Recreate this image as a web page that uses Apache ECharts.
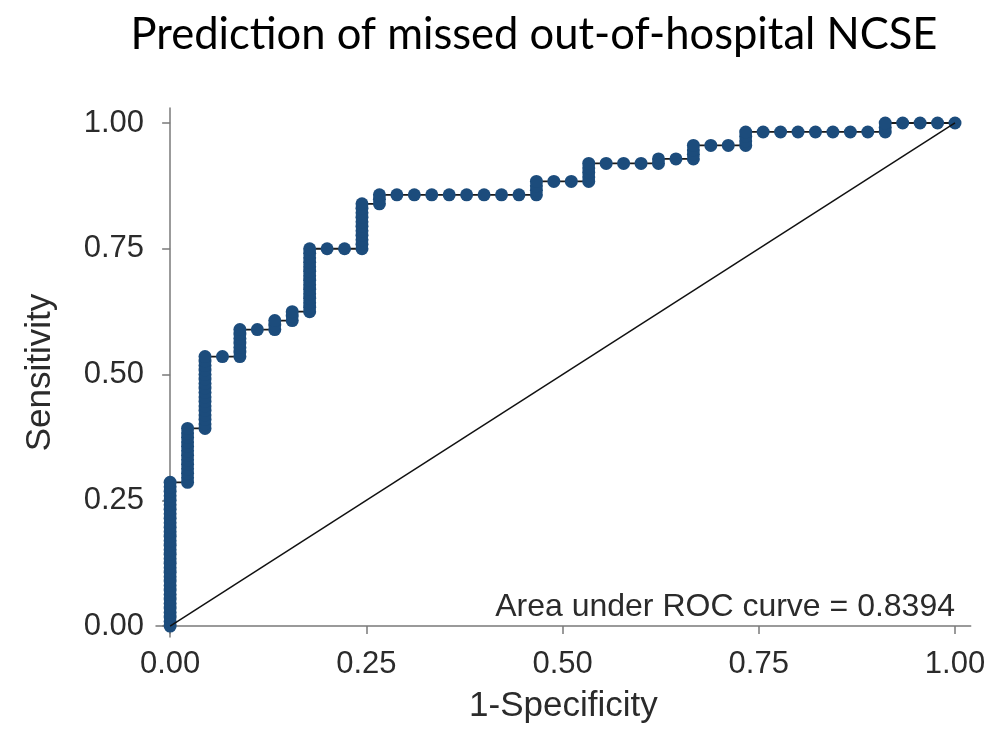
<!DOCTYPE html>
<html>
<head>
<meta charset="utf-8">
<script src="https://cdn.jsdelivr.net/npm/echarts@6/dist/echarts.min.js"></script>
<style>html,body{margin:0;padding:0;background:#fff;}#chart{width:997px;height:734px;}</style>
</head>
<body>
<div id="chart"></div>
<script>
// ---- data ----
const chartTitle = 'Prediction of missed out-of-hospital NCSE';
const xAxisName = '1-Specificity';
const yAxisName = 'Sensitivity';
const tickValues = [0, 0.25, 0.5, 0.75, 1];
const aucValue = 0.8394;
const nNegatives = 45;   // false-positive count steps along x
const nPositives = 112;  // true-positive count steps along y
// rocColumns[k] = true-positive counts of the points at k false positives
const rocColumns = [
  [0,1,2,3,4,5,6,7,8,9,10,11,12,13,14,15,16,17,18,19,20,21,22,23,24,25,26,27,28,29,30,31,32],
  [32,33,34,35,36,37,38,39,40,41,42,43,44],
  [44,45,46,47,48,49,50,51,52,53,54,55,56,57,58,59,60],
  [60],
  [60,61,62,63,64,65,66],
  [66],
  [66,67,68],
  [68,69,70],
  [70,71,72,73,74,75,76,77,78,79,80,81,82,83,84],
  [84],
  [84],
  [84,85,86,87,88,89,90,91,92,93,94],
  [94,95,96],
  [96],[96],[96],[96],[96],[96],[96],[96],
  [96,97,98,99],
  [99],[99],
  [99,100,101,102,103],
  [103],[103],[103],
  [103,104],
  [104],
  [104,105,106,107],
  [107],[107],
  [107,108,109,110],
  [110],[110],[110],[110],[110],[110],[110],
  [110,111,112],
  [112],[112],[112],[112]
];
const diagonal = [[0,0],[1,1]];

// build points
const rocPoints = [];
rocColumns.forEach((col, k) => {
  col.forEach(tp => rocPoints.push([k / nNegatives, tp / nPositives]));
});

const chart = echarts.init(document.getElementById('chart'));
const axisColor = '#7a7a7a';
const textColor = '#2b2b2b';
const font = 'Liberation Sans';

chart.setOption({
  animation: false,
  backgroundColor: '#ffffff',
  title: {
    text: chartTitle,
    left: 529, top: 8, textAlign: 'center',
    textStyle: { fontFamily: 'Lato', fontWeight: 'normal', fontSize: 43.5, color: '#000' }
  },
  grid: { left: 156, right: 26.3, top: 107.9, bottom: 96.9 },
  xAxis: {
    type: 'value', min: -0.018, max: 1.02,
    name: xAxisName, nameLocation: 'middle', nameGap: 52,
    nameTextStyle: { fontFamily: font, fontSize: 35, color: textColor },
    axisLine: { show: true, lineStyle: { color: axisColor, width: 1.5 } },
    axisTick: { show: true, length: 8, lineStyle: { color: axisColor, width: 1.5 }, customValues: tickValues },
    axisLabel: { customValues: tickValues, margin: 12, fontFamily: font, fontSize: 31, color: textColor,
      formatter: v => v.toFixed(2) },
    splitLine: { show: false }
  },
  yAxis: {
    type: 'value', min: -0.022, max: 1.03,
    name: yAxisName, nameLocation: 'middle', nameGap: 98, nameRotate: 90,
    nameTextStyle: { fontFamily: font, fontSize: 35, color: textColor },
    axisLine: { show: true, lineStyle: { color: axisColor, width: 1.5 } },
    axisTick: { show: true, length: 8, lineStyle: { color: axisColor, width: 1.5 }, customValues: tickValues },
    axisLabel: { customValues: tickValues, margin: 12, fontFamily: font, fontSize: 31, color: textColor,
      formatter: v => v.toFixed(2) },
    splitLine: { show: false }
  },
  series: [
    {
      type: 'line', data: rocPoints, z: 2,
      symbol: 'circle', symbolSize: 13, showAllSymbol: true,
      itemStyle: { color: '#1c4c7c' },
      lineStyle: { color: '#1a1a1a', width: 1.8 }
    },
    {
      type: 'line', data: diagonal, z: 3,
      symbol: 'none',
      lineStyle: { color: '#111', width: 1.5 }
    }
  ],
  graphic: [{
    type: 'text', right: 997 - 955, top: 591,
    style: { text: 'Area under ROC curve = ' + aucValue.toFixed(4), fontFamily: font, fontSize: 32, fill: textColor }
  }]
});
</script>
</body>
</html>
